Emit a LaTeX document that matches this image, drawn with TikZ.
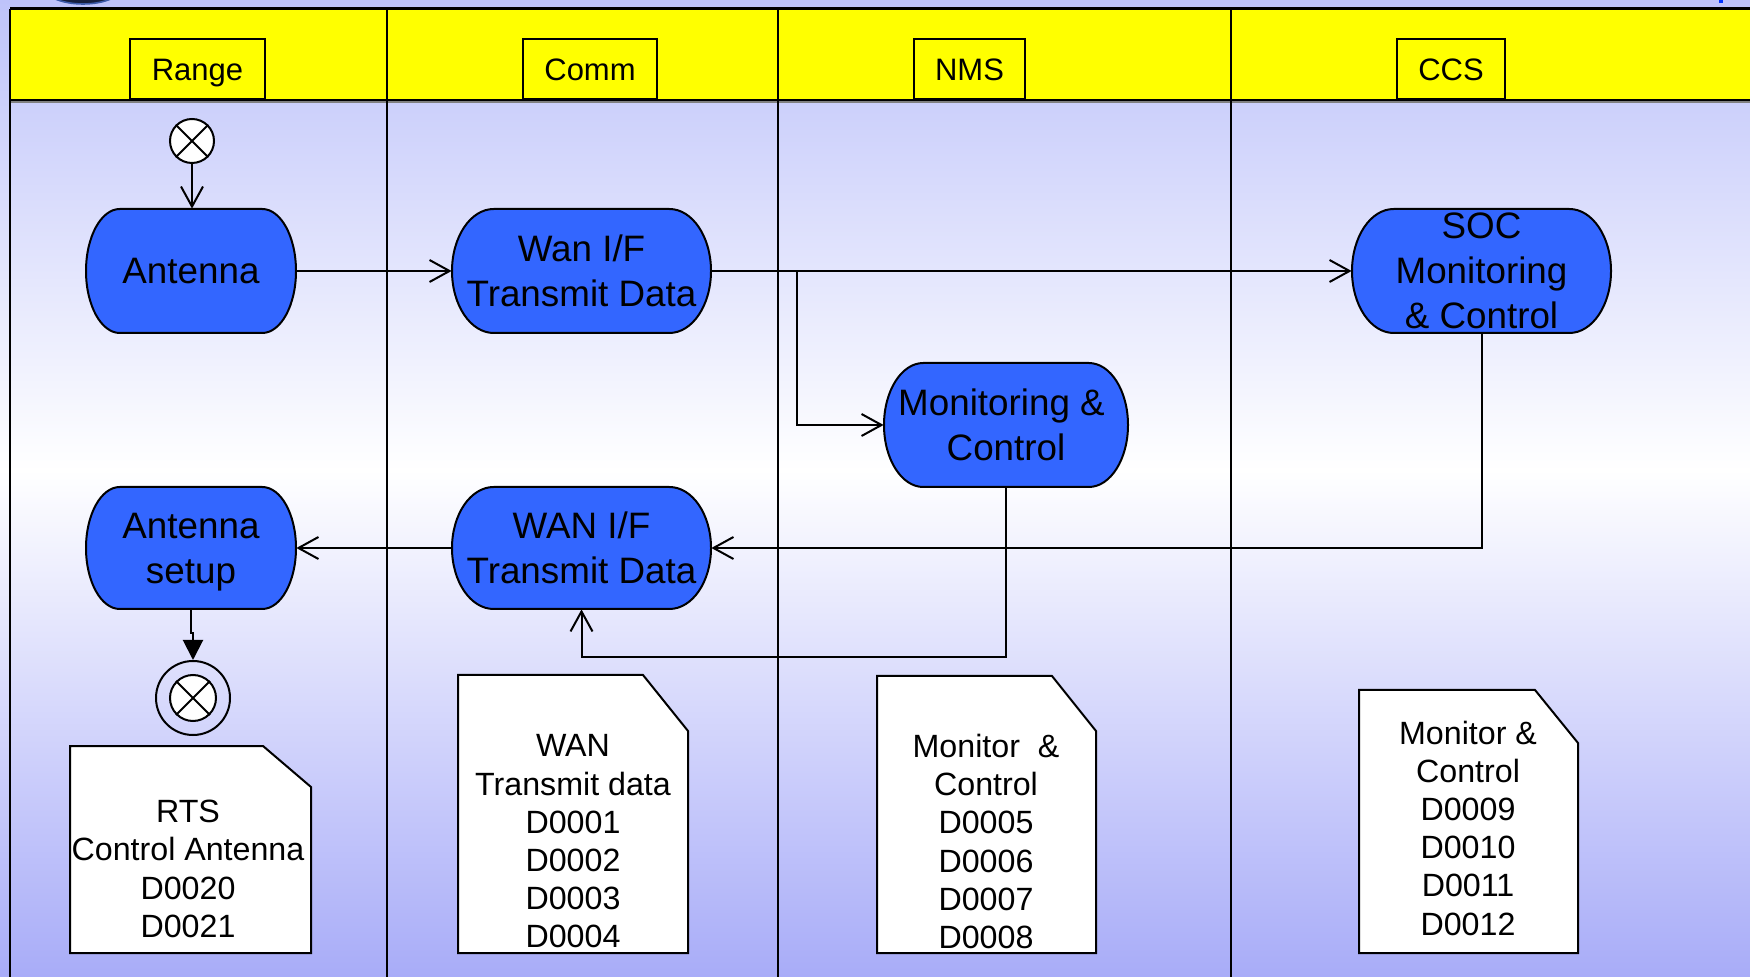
\documentclass[tikz,border=0pt]{standalone}
\usepackage{fontspec}
\setmainfont{Liberation Sans}
\usetikzlibrary{arrows.meta}

\definecolor{laneyellow}{RGB}{255,255,0}
\definecolor{actblue}{RGB}{51,102,255}
\definecolor{bgtop}{RGB}{190,195,250}
\definecolor{bgbot}{RGB}{168,172,248}
\definecolor{logonavy}{RGB}{22,30,62}
\definecolor{logorim}{RGB}{60,90,170}

\tikzset{
  flow/.style={draw=black, line width=1pt, -{Straight Barb[length=10pt,width=11pt]}},
  endflow/.style={draw=black, line width=1pt, -{Triangle[length=10pt,width=10pt]}},
  lanehead/.style={draw=black, line width=1.2pt, fill=laneyellow, inner sep=0pt,
    text height=11.1pt, text depth=0pt, font=\fontsize{15.5}{18}\selectfont},
  laneline/.style={draw=black, line width=1pt},
  acttext/.style={inner sep=0pt, align=center, font=\fontsize{18.4}{22.5}\selectfont},
  actbody/.style={draw=black, line width=1pt, fill=actblue},
  docbody/.style={draw=black, line width=1pt, fill=white},
  doctext/.style={inner sep=0pt, align=center, font=\fontsize{16.1}{19.1}\selectfont},
  pseudo/.style={circle, draw=black, line width=1pt, fill=white, inner sep=0pt},
  ring/.style={circle, draw=black, line width=1pt, inner sep=0pt},
}

% activity: name, centre x, centre y, width, height (in px units), label
\newcommand\actbox[6]{%
  \pgfmathsetmacro\bL{#2-#4/2}%
  \pgfmathsetmacro\bR{#2+#4/2}%
  \pgfmathsetmacro\bT{#3-#5/2}%
  \pgfmathsetmacro\bB{#3+#5/2}%
  \pgfmathsetmacro\bLi{\bL+0.161*#4}%
  \pgfmathsetmacro\bRi{\bR-0.161*#4}%
  \pgfmathsetmacro\bLc{\bL+0.161*#4*(1-0.5523)}%
  \pgfmathsetmacro\bRc{\bR-0.161*#4*(1-0.5523)}%
  \pgfmathsetmacro\bTc{#3-0.5523*#5/2}%
  \pgfmathsetmacro\bBc{#3+0.5523*#5/2}%
  \path[actbody] (\bLi,\bT) -- (\bRi,\bT)
     .. controls (\bRc,\bT) and (\bR,\bTc) .. (\bR,#3)
     .. controls (\bR,\bBc) and (\bRc,\bB) .. (\bRi,\bB)
     -- (\bLi,\bB)
     .. controls (\bLc,\bB) and (\bL,\bBc) .. (\bL,#3)
     .. controls (\bL,\bTc) and (\bLc,\bT) .. (\bLi,\bT) -- cycle;
  \pgfmathsetmacro\bw{#4/2}\pgfmathsetmacro\bh{#5/2}%
  \node[acttext, minimum width=\bw pt, minimum height=\bh pt] (#1) at (#2,#3) {#6};
}

% document: left, top, right, bottom, where the folded corner starts on top, where it ends on the right
\newcommand\docshape[6]{%
  \path[docbody] (#1,#2) -- (#5,#2) -- (#3,#6) -- (#3,#4) -- (#1,#4) -- cycle;
}

\begin{document}
\begin{tikzpicture}[x=0.5pt, y=-0.5pt]
\useasboundingbox (0,0) rectangle (1750,977);
\begin{scope}
\clip (0,0) rectangle (1750,977);

% page background
\shade[top color=bgtop, bottom color=white] (0,0) rectangle (1750,471);
\shade[top color=white, bottom color=bgbot] (0,470) rectangle (1750,977);

% logo remnants along the top edge
\filldraw[fill=logonavy, draw=logorim, line width=0.8pt] (83,-14) ellipse [x radius=40, y radius=18];
\fill[blue!80!cyan] (1719,0) rectangle (1723,3);

% swimlane header band and frame
\fill[laneyellow] (10,9) rectangle (1750,100);
\draw[laneline] (10,100) -- (1750,100);
\draw[gray, line width=0.6pt] (10,102) -- (1750,102);
\draw[line width=1.5pt] (10,9) -- (1750,9);
\draw[line width=1.3pt] (10,9) -- (10,977);
\draw[laneline] (387,9) -- (387,977);
\draw[laneline] (778,9) -- (778,977);
\draw[laneline] (1231,9) -- (1231,977);
\end{scope}

% lane titles
\node[lanehead, minimum width=67.5pt, minimum height=30pt] (hRange) at (197.5,69) {Range};
\node[lanehead, minimum width=67pt, minimum height=30pt] (hComm) at (590,69) {Comm};
\node[lanehead, minimum width=55.5pt, minimum height=30pt] (hNMS) at (969.5,69) {NMS};
\node[lanehead, minimum width=54pt, minimum height=30pt] (hCCS) at (1451,69) {CCS};

% initial pseudo-state
\node[pseudo, minimum size=22pt] (start) at (192,141) {};
\draw[line width=1pt] (start.45) -- (start.225) (start.135) -- (start.315);

% activities
\actbox{ant}{191}{271}{210}{124}{Antenna}
\actbox{wan1}{581.5}{271}{259}{124}{Wan I/F\\Transmit Data}
\actbox{soc}{1481.5}{271}{259}{124}{SOC\\Monitoring\\\& Control}
\actbox{mc}{1006}{425}{244}{124}{Monitoring \&\kern4.5pt\\Control}
\actbox{antset}{191}{548}{210}{122}{Antenna\\\smash{setup}}
\actbox{wan2}{581.5}{548}{259}{122}{WAN I/F\\Transmit Data}

% final pseudo-state
\node[ring, minimum size=37pt] (endo) at (193,698) {};
\node[pseudo, minimum size=23pt] (endi) at (193,698) {};
\draw[line width=1pt] (endi.45) -- (endi.225) (endi.135) -- (endi.315);

% data documents
\docshape{70}{746}{311}{953}{263}{787}
\node[doctext] (docRTS) at (188,869) {RTS\\Control Antenna\\D0020\\D0021};
\docshape{458}{675}{688}{953}{643}{731}
\node[doctext] (docWAN) at (573,841.5) {WAN\\Transmit data\\D0001\\D0002\\D0003\\D0004};
\docshape{877}{676}{1096}{953}{1052}{731}
\node[doctext] (docNMS) at (986,841.5) {Monitor~ \&\\Control\\D0005\\D0006\\D0007\\D0008};
\docshape{1359}{690}{1578}{953}{1535}{743}
\node[doctext] (docCCS) at (1468,828) {Monitor \&\\Control\\D0009\\D0010\\D0011\\D0012};

% control flow
\draw[flow] (start.south) -- (start.south |- ant.north);
\draw[flow] (ant) -- (wan1);
\draw[flow] (wan1) -- (soc);
\coordinate (split) at (797,271);
\draw[flow] (split) |- (mc.west);
\draw[flow] (soc.south) |- (wan2.east);
\draw[flow] (wan2) -- (antset);
\draw[flow] (mc.south) -- ++(0,170) -| (wan2.south);
\draw[endflow] (antset.south) -- ++(0,24) -| (endo.north);
\end{tikzpicture}
\end{document}
